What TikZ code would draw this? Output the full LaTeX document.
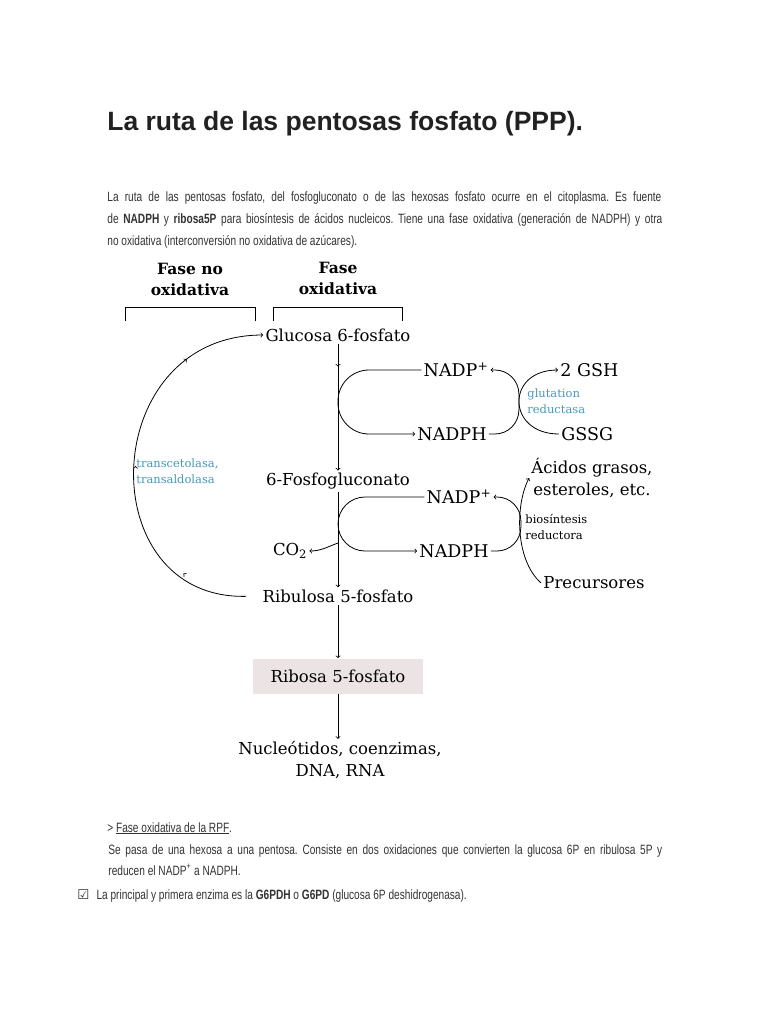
\documentclass[tikz,border=0pt]{standalone}
\usepackage{fontspec}
\setmainfont{DejaVu Serif}
\newfontfamily\bodyfont[FakeStretch=0.75]{Liberation Sans}
\newfontfamily\titlefont{Liberation Sans}
\newfontfamily\symfont{DejaVu Sans}
\usetikzlibrary{arrows, positioning, decorations.markings}
\definecolor{enzblue}{RGB}{70,155,185}
\definecolor{ribfill}{RGB}{236,228,228}
\frenchspacing

\begin{document}
\begin{tikzpicture}[x=1bp, y=1bp, line width=0.8bp,
    body/.style={anchor=base west, inner sep=0pt, text=black!80, font=\bodyfont\fontsize{13.5bp}{16bp}\selectfont},
    head/.style={align=center, font=\bfseries\fontsize{15.5bp}{21bp}\selectfont},
    met/.style={align=center, inner sep=2bp, font=\fontsize{16.5bp}{22bp}\selectfont},
    cof/.style={inner sep=2bp, font=\fontsize{17.5bp}{20bp}\selectfont},
    enz/.style={align=left, inner sep=0pt, font=\fontsize{11.5bp}{16bp}\selectfont},
    tickmid/.style={postaction={decorate}, decoration={markings, mark=at position #1 with {\arrow{>}}}},
    arcmarks/.style={postaction={decorate}, decoration={markings,
        mark=at position 0.2 with {\arrow{>}}, mark=at position 0.5 with {\arrow{>}},
        mark=at position 0.8 with {\arrow{>}}}}]

  \fill[white] (0,-1024) rectangle (768,0);
  \useasboundingbox (0,-1024) rectangle (768,0);

  % page text
  \node[body, text=black!87, font=\titlefont\bfseries\fontsize{26.5bp}{30bp}\selectfont] (title) at (107,-130) {La ruta de las pentosas fosfato (PPP).};
  \node[body] (par1) at (107,-201) {\makebox[554bp][s]{La ruta de las pentosas fosfato, del fosfogluconato o de las hexosas fosfato ocurre en el citoplasma. Es fuente}};
  \node[body] (par2) at (107,-223) {\makebox[555bp][s]{de \textbf{NADPH} y \textbf{ribosa5P} para biosíntesis de ácidos nucleicos. Tiene una fase oxidativa (generación de NADPH) y otra}};
  \node[body] (par3) at (107,-245) {no oxidativa (interconversión no oxidativa de azúcares).};

  % phases
  \node[head] (fnox) at (190,-279) {Fase no\\oxidativa};
  \node[head] (fox) at (338,-278) {Fase\\oxidativa};
  \draw[line width=1bp] (125,-321) -- (125,-307) -- (255,-307) -- (255,-321);
  \draw[line width=1bp] (273,-321) -- (273,-307) -- (402,-307) -- (402,-321);

  % main chain
  \node[met] (g6p) at (338,-335) {Glucosa 6-fosfato};
  \node[met] (pg6) at (338,-481) {6-Fosfogluconato};
  \node[met] (ru5p) at (338,-596) {Ribulosa 5-fosfato};
  \node[met, fill=ribfill, minimum width=170bp, minimum height=35bp] (r5p) at (338,-676) {Ribosa 5-fosfato};
  \node[met] (nucl) at (340,-760) {Nucleótidos, coenzimas,\\DNA, RNA};

  % cofactors
  \node[cof] (nadpA) at (456,-370) {NADP\textsuperscript{+}};
  \node[cof] (nadphA) at (452,-434) {NADPH};
  \node[cof, anchor=west] (gsh) at (558,-370) {2 GSH};
  \node[cof, anchor=west] (gssg) at (559,-434) {GSSG};
  \node[enz, text=enzblue, anchor=west] (glut) at (527,-401) {glutation\\reductasa};
  \node[cof] (nadpB) at (459,-497) {NADP\textsuperscript{+}};
  \node[cof] (nadphB) at (454,-551) {NADPH};
  \node[met] (acidos) at (592,-478) {Ácidos grasos,\\esteroles, etc.};
  \node[met] (precur) at (594,-583) {Precursores};
  \node[enz, anchor=west] (biosin) at (525,-527) {biosíntesis\\reductora};
  \node[met] (co2) at (290,-551) {CO\textsubscript{2}};
  \node[enz, text=enzblue, anchor=west] (transe) at (136,-471) {transcetolasa,\\transaldolasa};
  \coordinate (cobranch) at (338,-543);

  % arrows
  \draw[->, tickmid=0.18] (g6p) -- (pg6);
  \draw[->] (pg6) -- (ru5p);
  \draw[->] (ru5p) -- (r5p);
  \draw[->] (r5p.south) -- (r5p.south |- nucl.north);
  \draw[->] (cobranch) to[out=200, in=0] (co2);

  \draw[->, rounded corners=31bp] (nadpA.west) -- (nadpA.west -| pg6.north) |- (nadphA.west);
  \draw[->, rounded corners=24bp] (nadphA.east) -- ++(30,0) |- (nadpA.east);
  \draw[->] (gssg.west) to[out=180, in=180, looseness=2.1] (gsh.west);

  \draw[->, rounded corners=27bp] (nadpB.west) -- (nadpB.west -| pg6.south) |- (nadphB.west);
  \draw[->, rounded corners=24bp] (nadphB.east) -- ++(30,0) |- (nadpB.east);
  \draw[->] (precur.west) .. controls (515,-560) and (515,-505) .. (acidos.west);

  \draw[->, arcmarks, shorten <=14bp] (ru5p.west) .. controls (90,-600) and (97,-335) .. (g6p.west);
  % bottom text
  \node[body] (sub) at (107,-832) {> \underline{Fase oxidativa de la RPF}.};
  \node[body] (par4) at (108,-854) {\makebox[554bp][s]{Se pasa de una hexosa a una pentosa. Consiste en dos oxidaciones que convierten la glucosa 6P en ribulosa 5P y}};
  \node[body] (par5) at (108,-875) {reducen el NADP\textsuperscript{+} a NADPH.};
  \node[body] (par6) at (77,-899) {{\symfont ☑}\hspace{7bp}La principal y primera enzima es la \textbf{G6PDH} o \textbf{G6PD} (glucosa 6P deshidrogenasa).};
\end{tikzpicture}
\end{document}
